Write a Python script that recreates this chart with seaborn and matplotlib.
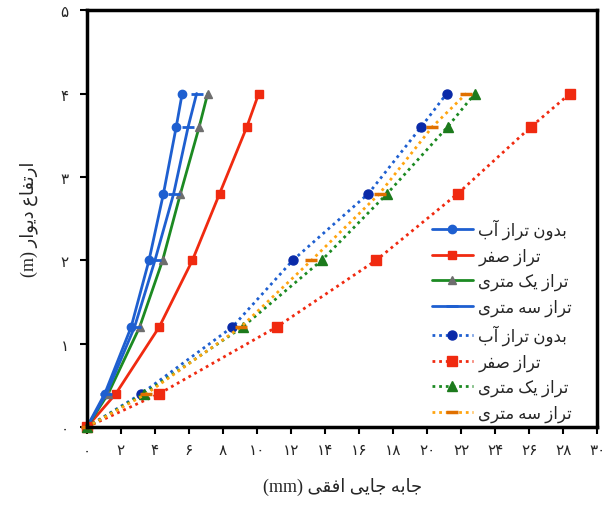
import re
import numpy as np
import pandas as pd
import matplotlib
matplotlib.use("Agg")
import matplotlib.pyplot as plt
import seaborn as sns

# ---------------------------------------------------------------- data
heights = [0, 0.4, 1.2, 2.0, 2.8, 3.6, 4.0]

# solid curves
solid_no_water = [0, 1.05, 2.6, 3.65, 4.5, 5.25, 5.6]
solid_zero = [0, 1.7, 4.25, 6.2, 7.8, 9.4, 10.1]
solid_one_m = [0, 1.25, 3.1, 4.45, 5.5, 6.6, 7.1]
solid_three_m = [0, 1.15, 2.8, 4.0, 5.1, 5.95, 6.45]

# dotted curves
dotted_no_water = [0, 3.2, 8.55, 12.1, 16.55, 19.65, 21.15]
dotted_zero = [0, 4.25, 11.15, 17.0, 21.8, 26.1, 28.4]
dotted_one_m = [0, 3.35, 9.15, 13.8, 17.65, 21.2, 22.8]
dotted_three_m = [0, 3.5, 9.05, 13.2, 17.2, 20.3, 22.3]

labels = ["بدون تراز آب", "تراز صفر", "تراز یک متری", "تراز سه متری"]
x_ticks = list(range(0, 31, 2))
y_ticks = [0, 1, 2, 3, 4, 5]
x_title = "جابه جایی افقی (mm)"
y_title = "ارتفاع دیوار (m)"

# ---------------------------------------------------------------- Persian shaping
# (isolated, final, initial, medial)
_FORMS = {
    "ا": ("\uFE8D", "\uFE8E", None, None),
    "آ": ("\uFE81", "\uFE82", None, None),
    "ب": ("\uFE8F", "\uFE90", "\uFE91", "\uFE92"),
    "پ": ("\uFB56", "\uFB57", "\uFB58", "\uFB59"),
    "ت": ("\uFE95", "\uFE96", "\uFE97", "\uFE98"),
    "ج": ("\uFE9D", "\uFE9E", "\uFE9F", "\uFEA0"),
    "ح": ("\uFEA1", "\uFEA2", "\uFEA3", "\uFEA4"),
    "خ": ("\uFEA5", "\uFEA6", "\uFEA7", "\uFEA8"),
    "د": ("\uFEA9", "\uFEAA", None, None),
    "ذ": ("\uFEAB", "\uFEAC", None, None),
    "ر": ("\uFEAD", "\uFEAE", None, None),
    "ز": ("\uFEAF", "\uFEB0", None, None),
    "ژ": ("\uFB8A", "\uFB8B", None, None),
    "س": ("\uFEB1", "\uFEB2", "\uFEB3", "\uFEB4"),
    "ش": ("\uFEB5", "\uFEB6", "\uFEB7", "\uFEB8"),
    "ص": ("\uFEB9", "\uFEBA", "\uFEBB", "\uFEBC"),
    "ض": ("\uFEBD", "\uFEBE", "\uFEBF", "\uFEC0"),
    "ط": ("\uFEC1", "\uFEC2", "\uFEC3", "\uFEC4"),
    "ع": ("\uFEC9", "\uFECA", "\uFECB", "\uFECC"),
    "غ": ("\uFECD", "\uFECE", "\uFECF", "\uFED0"),
    "ف": ("\uFED1", "\uFED2", "\uFED3", "\uFED4"),
    "ق": ("\uFED5", "\uFED6", "\uFED7", "\uFED8"),
    "ک": ("\uFB8E", "\uFB8F", "\uFB90", "\uFB91"),
    "گ": ("\uFB92", "\uFB93", "\uFB94", "\uFB95"),
    "ل": ("\uFEDD", "\uFEDE", "\uFEDF", "\uFEE0"),
    "م": ("\uFEE1", "\uFEE2", "\uFEE3", "\uFEE4"),
    "ن": ("\uFEE5", "\uFEE6", "\uFEE7", "\uFEE8"),
    "ه": ("\uFEE9", "\uFEEA", "\uFEEB", "\uFEEC"),
    "و": ("\uFEED", "\uFEEE", None, None),
    "ی": ("\uFBFC", "\uFBFD", "\uFBFE", "\uFBFF"),
}


def _dual(c):
    return c in _FORMS and _FORMS[c][2] is not None


def _shape(run):
    out = []
    for i, c in enumerate(run):
        if c not in _FORMS:
            out.append(c)
            continue
        prev_join = i > 0 and _dual(run[i - 1])
        next_join = _dual(c) and i + 1 < len(run) and run[i + 1] in _FORMS
        iso, fin, ini, med = _FORMS[c]
        if prev_join and next_join:
            out.append(med)
        elif prev_join:
            out.append(fin)
        elif next_join:
            out.append(ini)
        else:
            out.append(iso)
    return "".join(out)


def fa(text):
    """Return the left-to-right visual form of a right-to-left string."""
    runs = re.findall(r"[\u0600-\u06FF ]+|[^\u0600-\u06FF]+", text)
    visual = []
    for r in reversed(runs):
        if re.search(r"[\u0600-\u06FF]", r):
            visual.append(_shape(r)[::-1])
        else:
            visual.append(r)
    return "".join(visual).strip()


def fa_digits(n):
    return "".join("۰۱۲۳۴۵۶۷۸۹"[int(d)] for d in str(n))


# ---------------------------------------------------------------- plot
sns.set_theme(style="white")
plt.rcParams["font.family"] = ["Liberation Serif", "DejaVu Sans"]

fig = plt.figure(figsize=(6.12, 5.06), dpi=100)
ax = fig.add_axes([0.142, 0.154, 0.834, 0.824])

dots = (0, (1, 1.4))
series = [
    (solid_no_water, dict(color="#1E5FD0", ls="-", marker="o", mfc="#1E5FD0", mec="#1E5FD0", ms=6, mew=1), labels[0]),
    (solid_zero, dict(color="#F02A10", ls="-", marker="s", mfc="#F02A10", mec="#F02A10", ms=6, mew=1), labels[1]),
    (solid_one_m, dict(color="#1C8A22", ls="-", marker="^", mfc="#6E6E6E", mec="#6E6E6E", ms=6, mew=1), labels[2]),
    (solid_three_m, dict(color="#1E5FD0", ls="-", marker="_", mfc="#1E5FD0", mec="#1E5FD0", ms=8, mew=2), labels[3]),
    (dotted_no_water, dict(color="#1E5FD0", ls=dots, marker="o", mfc="#0A2AA8", mec="#0A2AA8", ms=6.5, mew=1), labels[0]),
    (dotted_zero, dict(color="#F02A10", ls=dots, marker="s", mfc="#F02A10", mec="#F02A10", ms=6.5, mew=1), labels[1]),
    (dotted_one_m, dict(color="#1C8A22", ls=dots, marker="^", mfc="#1C7A1C", mec="#1C7A1C", ms=6.5, mew=1), labels[2]),
    (dotted_three_m, dict(color="#FFA510", ls=dots, marker="_", mfc="#E07000", mec="#E07000", ms=8, mew=2.5), labels[3]),
]

for xs, style, lab in series:
    sns.lineplot(x=xs, y=heights, ax=ax, sort=False, estimator=None,
                 lw=2, label=fa(lab), **style)

ax.set_xlim(0, 30)
ax.set_ylim(0, 5)
ax.set_xticks(x_ticks)
ax.set_xticklabels([fa_digits(v) for v in x_ticks], family="DejaVu Sans", fontsize=11)
ax.set_yticks(y_ticks)
ax.set_yticklabels([fa_digits(v) for v in y_ticks], family="DejaVu Sans", fontsize=11)
ax.tick_params(axis="both", direction="out", length=5, width=1.5, color="black",
               bottom=True, left=True)
ax.tick_params(axis="x", pad=6)
ax.tick_params(axis="y", pad=8)
for sp in ax.spines.values():
    sp.set_visible(True)
    sp.set_color("black")
    sp.set_linewidth(2.5)
for ln in ax.lines:
    ln.set_clip_on(False)

ax.set_xlabel(fa(x_title), fontsize=13, labelpad=14)
ax.set_ylabel(fa(y_title), fontsize=13, labelpad=16)

leg = ax.legend(loc="upper left", bbox_to_anchor=(0.659, 0.52), frameon=False,
                fontsize=12, handlelength=2.5, handletextpad=0.3,
                labelspacing=0.5, borderpad=0, markerfirst=True)

fig.savefig("out.png", dpi=100)
